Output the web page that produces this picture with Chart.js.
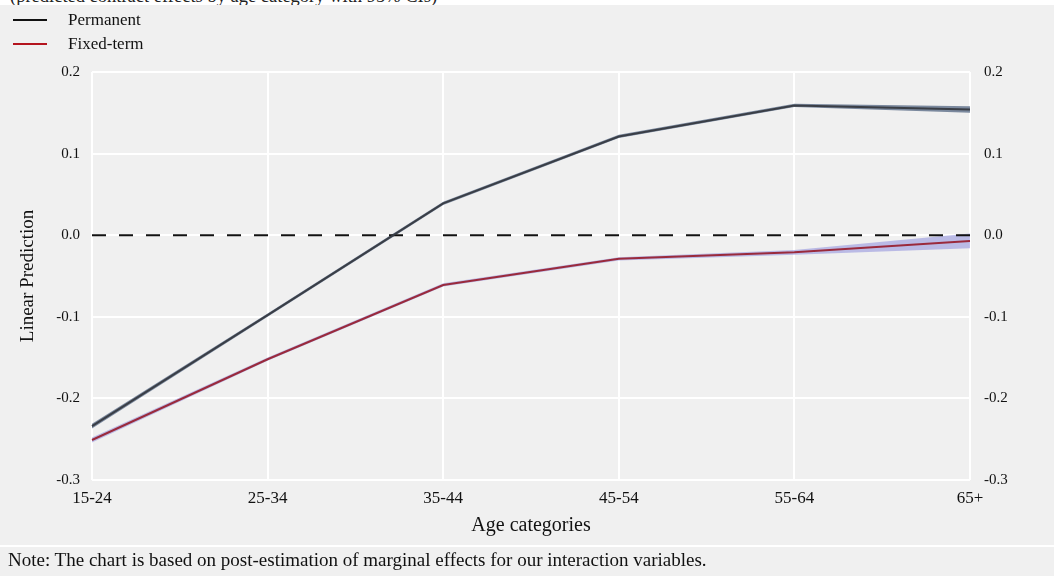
<!DOCTYPE html>
<html>
<head>
<meta charset="utf-8">
<script src="https://cdn.jsdelivr.net/npm/chart.js@4.4.1/dist/chart.umd.min.js"></script>
<style>
  html, body { margin: 0; padding: 0; background: #f0f0f0; }
  body { width: 1054px; height: 576px; position: relative; overflow: hidden; font-family: "Liberation Serif", "DejaVu Serif", serif; color: #111; }
  #topstrip { position: absolute; left: 0; top: 0; width: 1054px; height: 5px; background: #fff; overflow: hidden; }
  #topstrip span { position: absolute; left: 10px; top: -14px; font-size: 18.5px; white-space: nowrap; color: #222; }
  #wrap { position: absolute; left: 0; top: 0; width: 1054px; height: 576px; }
  .leg { position: absolute; left: 13px; font-size: 17px; height: 20px; line-height: 20px; white-space: nowrap; }
  .leg i { display: inline-block; width: 34px; height: 2px; vertical-align: middle; margin-right: 21px; position: relative; top: -1px; }
  #sep { position: absolute; left: 0; top: 545px; width: 1054px; height: 2px; background: #fff; }
  #note { position: absolute; left: 8px; top: 549px; font-size: 19px; line-height: 22px; white-space: nowrap; }
</style>
</head>
<body>
<div id="topstrip"><span>(predicted contract effects by age category with 95% CIs)</span></div>
<div id="wrap"><canvas id="c"></canvas></div>
<div class="leg" style="top:10px"><i style="background:#111"></i>Permanent</div>
<div class="leg" style="top:34px"><i style="background:#b4141e"></i>Fixed-term</div>
<div id="sep"></div>
<div id="note">Note: The chart is based on post-estimation of marginal effects for our interaction variables.</div>
<script>
// Age categories on the x axis
const ageCategories = ["15-24", "25-34", "35-44", "45-54", "55-64", "65+"];

// Predicted values (linear prediction) with 95% confidence bounds
const permanent      = [-0.234, -0.098, 0.039, 0.121, 0.159, 0.154];
const permanentLow   = [-0.237, -0.100, 0.037, 0.119, 0.157, 0.150];
const permanentHigh  = [-0.231, -0.096, 0.041, 0.123, 0.161, 0.158];

const fixedTerm      = [-0.251, -0.152, -0.061, -0.029, -0.021, -0.007];
const fixedTermLow   = [-0.254, -0.154, -0.063, -0.031, -0.024, -0.016];
const fixedTermHigh  = [-0.248, -0.150, -0.059, -0.027, -0.018, 0.002];

// Reference line at zero
const zeroLine = ageCategories.map(() => 0);

// Y axis ticks
const yTicks = [-0.3, -0.2, -0.1, 0.0, 0.1, 0.2];

const serif = "'Liberation Serif', 'DejaVu Serif', serif";

// Confidence band edge: invisible line, filled down to the previous dataset
const band = (data, color, fillTo) => ({
  data, borderWidth: 0, pointRadius: 0, borderColor: 'transparent',
  backgroundColor: color, fill: fillTo, tension: 0, yAxisID: 'y', order: 3
});

const fixedWidth = (w) => (scale) => { scale.width = w; };

new Chart(document.getElementById('c'), {
  type: 'line',
  data: {
    labels: ageCategories,
    datasets: [
      band(permanentLow, 'rgba(72,92,122,0.7)', false),
      band(permanentHigh, 'rgba(72,92,122,0.7)', '-1'),
      band(fixedTermLow, 'rgba(150,150,222,0.6)', false),
      band(fixedTermHigh, 'rgba(150,150,222,0.6)', '-1'),
      { label: 'zero', data: zeroLine, borderColor: '#111', borderWidth: 2, borderDash: [14, 13],
        pointRadius: 0, fill: false, yAxisID: 'y', order: 2 },
      { label: 'Permanent', data: permanent, borderColor: '#3a3e46', borderWidth: 2,
        pointRadius: 0, fill: false, tension: 0, yAxisID: 'y', order: 0 },
      { label: 'Fixed-term', data: fixedTerm, borderColor: '#9a2a3c', borderWidth: 2,
        pointRadius: 0, fill: false, tension: 0, yAxisID: 'y', order: 0 }
    ]
  },
  options: {
    responsive: true,
    maintainAspectRatio: false,
    animation: false,
    layout: { padding: { left: 0, right: 0, top: 72, bottom: 0 } },
    plugins: { legend: { display: false }, tooltip: { enabled: false } },
    scales: {
      x: {
        type: 'category',
        offset: false,
        grid: { color: '#ffffff', lineWidth: 2, drawTicks: false },
        border: { display: false },
        ticks: { color: '#111', font: { family: serif, size: 17 }, padding: 8, maxRotation: 0, autoSkip: false },
        title: { display: true, text: 'Age categories', color: '#111',
                 font: { family: serif, size: 20 }, padding: { top: 0, bottom: 38 } },
        afterFit: (scale) => { scale.height = 96; }
      },
      y: {
        position: 'left',
        min: -0.3, max: 0.2,
        afterBuildTicks: (scale) => { scale.ticks = yTicks.map(v => ({ value: v })); },
        grid: { color: '#ffffff', lineWidth: 2, drawTicks: false },
        border: { display: false },
        ticks: { color: '#111', font: { family: serif, size: 15 }, padding: 12,
                 callback: (v) => Number(v).toFixed(1) },
        title: { display: true, text: 'Linear Prediction', color: '#111',
                 font: { family: serif, size: 19 }, padding: { top: 17, bottom: 0 } },
        afterFit: fixedWidth(92)
      },
      y2: {
        position: 'right',
        min: -0.3, max: 0.2,
        afterBuildTicks: (scale) => { scale.ticks = yTicks.map(v => ({ value: v })); },
        grid: { display: false, drawTicks: false },
        border: { display: false },
        ticks: { color: '#111', font: { family: serif, size: 15 }, padding: 14,
                 callback: (v) => Number(v).toFixed(1) },
        afterFit: fixedWidth(84)
      }
    }
  }
});
</script>
</body>
</html>
